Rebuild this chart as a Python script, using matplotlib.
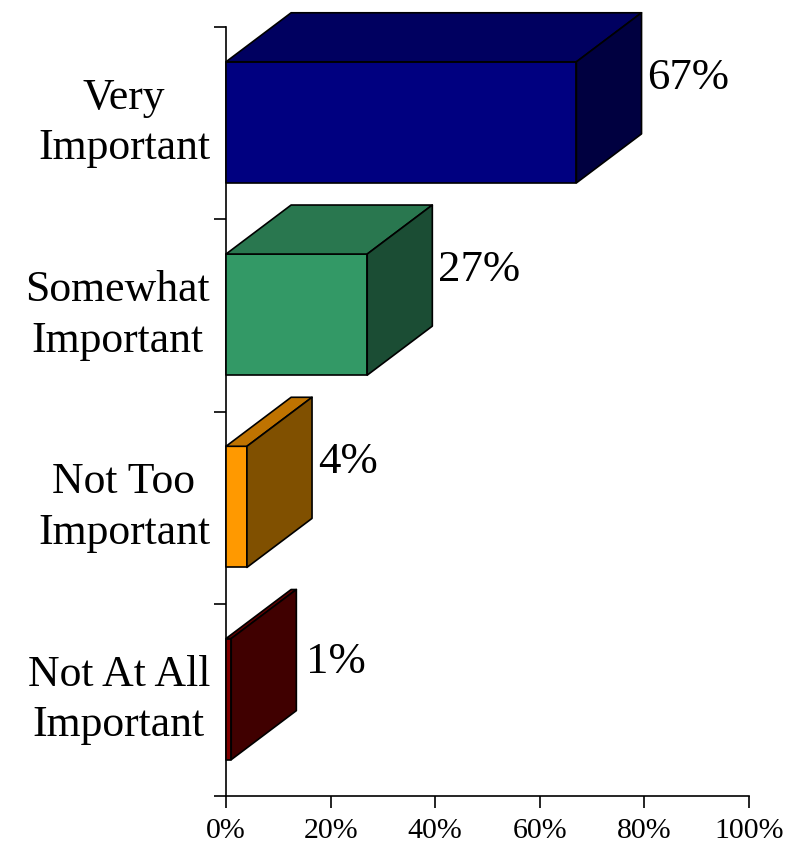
import matplotlib
matplotlib.use("Agg")
import matplotlib.pyplot as plt
from matplotlib.patches import Polygon

categories = ["Very\nImportant", "Somewhat\nImportant", "Not Too\nImportant", "Not At All\nImportant"]
values = [67, 27, 4, 1]
front_colors = ["#000080", "#339966", "#FF9900", "#800000"]
top_colors = ["#000060", "#29774F", "#BF7300", "#600000"]
side_colors = ["#000040", "#1B4D34", "#805000", "#400000"]
x_ticks = [0, 20, 40, 60, 80, 100]
x_labels = ["0%", "20%", "40%", "60%", "80%", "100%"]

W, H = 801, 843
plt.rcParams["font.family"] = ["Liberation Serif", "DejaVu Serif"]
fig = plt.figure(figsize=(W / 100, H / 100), dpi=100)
ax = fig.add_axes([226 / W, 1 - 796 / H, 523 / W, (796 - 27) / H])
ax.set_xlim(0, 100)
ax.set_ylim(len(values), 0)
ax.patch.set_visible(False)

bar_h = 0.63
dx = 12.45
dy = 0.255
for i, v in enumerate(values):
    y0 = i + 0.5 - bar_h / 2 - 0.004
    y1 = y0 + bar_h
    ec = dict(edgecolor="black", linewidth=1.2, joinstyle="round", clip_on=False)
    ax.add_patch(Polygon([(0, y0), (v, y0), (v, y1), (0, y1)], facecolor=front_colors[i], zorder=3, **ec))
    ax.add_patch(Polygon([(0, y0), (dx, y0 - dy), (v + dx, y0 - dy), (v, y0)], facecolor=top_colors[i], zorder=3, **ec))
    ax.add_patch(Polygon([(v, y0), (v + dx, y0 - dy), (v + dx, y1 - dy), (v, y1)], facecolor=side_colors[i], zorder=3, **ec))
    extra = (2.5, -6) if v == 1 else (0, -0.7)
    ax.annotate(f"{v}%", xy=(v + dx, i + 0.5 - dy + 0.015), xytext=(4.3 + extra[0], extra[1]), textcoords="offset points",
                ha="left", va="center", fontsize=32.3, color="black", clip_on=False)
    ax.annotate(categories[i], xy=(0, i + 0.5), xytext=(-11.5, 0), textcoords="offset points",
                ha="right", va="center", multialignment="center", fontsize=31.5, linespacing=1.34, color="black")

ax.set_xticks(x_ticks)
ax.set_xticklabels(x_labels, fontsize=21.5)
ax.set_yticks(range(len(values) + 1))
ax.set_yticklabels([])
ax.tick_params(axis="both", direction="out", length=8.6, width=1.2, color="black")
ax.tick_params(axis="x", pad=7)
for s in ("top", "right"):
    ax.spines[s].set_visible(False)
for s in ("left", "bottom"):
    ax.spines[s].set_linewidth(1.2)

fig.savefig("out.png", dpi=100, facecolor="white")
